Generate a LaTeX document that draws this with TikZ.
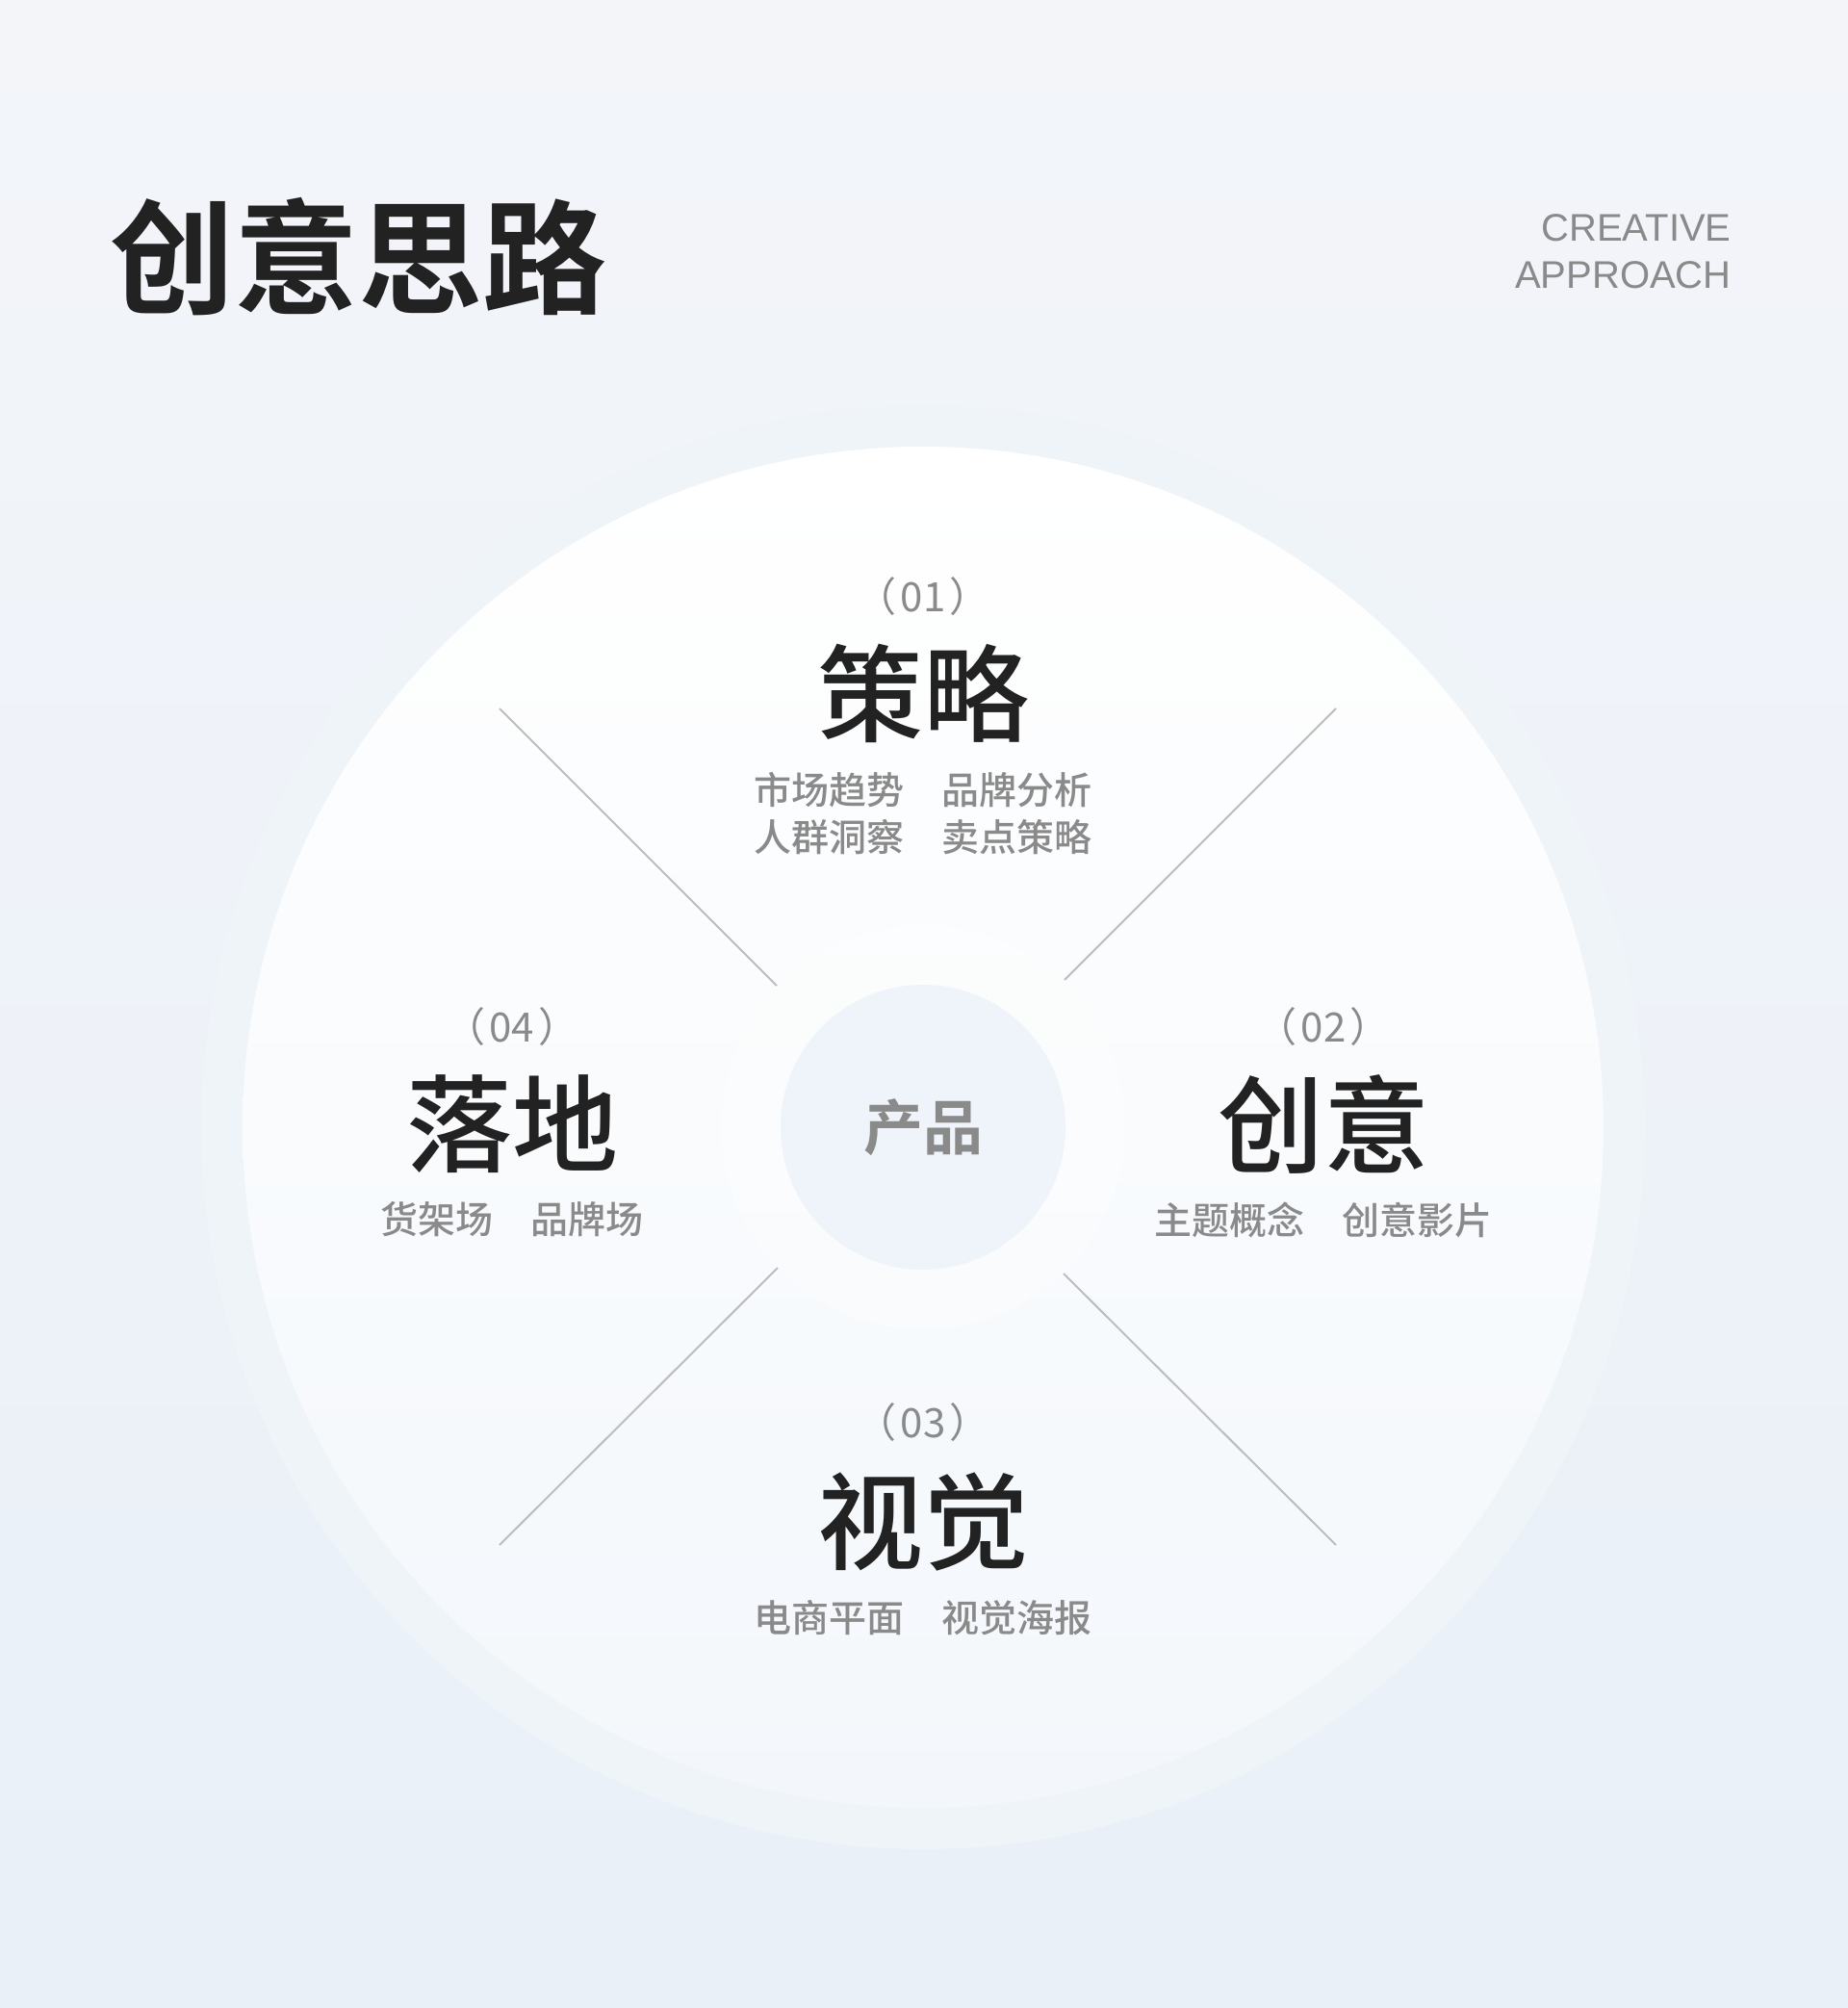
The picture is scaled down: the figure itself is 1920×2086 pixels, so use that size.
\documentclass[tikz,border=0pt]{standalone}
\usepackage{fontspec}
\newfontfamily\cjk{Noto Sans CJK SC}[BoldFont={Noto Sans CJK SC Bold}]
\newfontfamily\cjkm{Noto Sans CJK SC Medium}
\newfontfamily\latin{Liberation Sans}
\definecolor{bgtop}{HTML}{F3F5F9}
\definecolor{bgbot}{HTML}{E9F0F8}
\definecolor{ringc}{HTML}{EFF4F9}
\definecolor{innerbot}{HTML}{F3F7FB}
\definecolor{corec}{HTML}{EEF4FA}
\definecolor{dark}{HTML}{222222}
\definecolor{greyt}{HTML}{8A8A8A}
\definecolor{linec}{HTML}{BDBDBD}
\tikzset{
  num/.style={inner sep=0pt, text=greyt, font=\cjk\fontsize{21pt}{24pt}\selectfont},
  head/.style={inner sep=0pt, text=dark, font=\cjkm\fontsize{55pt}{60pt}\selectfont},
  sub/.style={inner sep=0pt, text=greyt, align=center, font=\cjkm\fontsize{19.5pt}{24.5pt}\selectfont},
  spoke/.style={draw=linec, line width=1pt},
}
\begin{document}
\begin{tikzpicture}[x=0.5pt,y=-0.5pt]
\useasboundingbox (0,0) rectangle (1920,2086);
\shade[top color=bgtop, bottom color=bgbot] (0,0) rectangle (1920,2086);
% circles
\coordinate (c) at (959,1171);
\fill[ringc] (c) circle (750);
\shade[top color=white, bottom color=innerbot] (c) circle (707);
\fill[white, opacity=0.35] (c) circle (210);
\node[circle, fill=corec, minimum size=296*0.5pt, inner sep=0pt,
      text=greyt, font=\cjk\bfseries\fontsize{31pt}{36pt}\selectfont] (core) at (c) {产品};
% spokes
\coordinate (tlo) at (519,736);  \coordinate (tli) at (807,1024);
\coordinate (tro) at (1388,736); \coordinate (tri) at (1106,1018);
\coordinate (blo) at (519,1605); \coordinate (bli) at (808,1317);
\coordinate (bro) at (1388,1605);\coordinate (bri) at (1105,1323);
\draw[spoke] (tlo) -- (tli);
\draw[spoke] (tro) -- (tri);
\draw[spoke] (blo) -- (bli);
\draw[spoke] (bro) -- (bri);
% title
\node[anchor=west, inner sep=0pt, text=dark, font=\cjk\bfseries\fontsize{64.5pt}{70pt}\selectfont] (title) at (114,267) {创意思路};
\node[anchor=east, inner sep=0pt, text=greyt, font=\latin\fontsize{20pt}{24pt}\selectfont] (en1) at (1799,237) {CREATIVE};
\node[anchor=east, inner sep=0pt, text=greyt, font=\latin\fontsize{20pt}{24pt}\selectfont] (en2) at (1799,286) {APPROACH};
% 01
\node[num] (n1) at (959,620) {（\kern2pt 01\kern2pt）};
\node[head] (h1) at (959,720) {策略};
\node[sub] (s1a) at (959,821) {市场趋势　品牌分析};
\node[sub] (s1b) at (959,870) {人群洞察　卖点策略};
% 02
\node[num] (n2) at (1375,1067) {（\kern2pt 02\kern2pt）};
\node[head] (h2) at (1375,1168) {创意};
\node[sub] (s2) at (1375,1267) {主题概念　创意影片};
% 03
\node[num] (n3) at (959,1478) {（\kern2pt 03\kern2pt）};
\node[head] (h3) at (959,1581) {视觉};
\node[sub] (s3) at (959,1681) {电商平面　视觉海报};
% 04
\node[num] (n4) at (532,1067) {（\kern2pt 04\kern2pt）};
\node[head] (h4) at (532,1168) {落地};
\node[sub] (s4) at (532,1267) {货架场　品牌场};
\end{tikzpicture}
\end{document}
